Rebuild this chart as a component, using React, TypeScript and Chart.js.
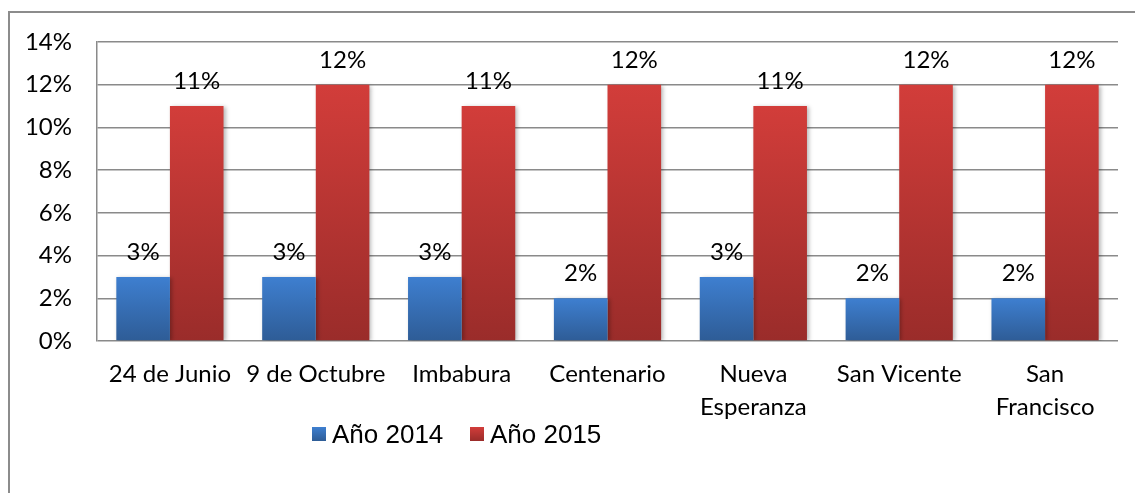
import React, { useEffect, useRef } from "react";
import { Chart, registerables } from "chart.js";

Chart.register(...registerables);

const categories: (string | string[])[] = [
  "24 de Junio",
  "9 de Octubre",
  "Imbabura",
  "Centenario",
  ["Nueva", "Esperanza"],
  "San Vicente",
  ["San", "Francisco"],
];
const seriesNames = ["Año 2014", "Año 2015"];
const values2014 = [3, 3, 3, 2, 3, 2, 2];
const values2015 = [11, 12, 11, 12, 11, 12, 12];
const yTicks = [0, 2, 4, 6, 8, 10, 12, 14];

const BLUE = ["#3e7fd0", "#2e5c96"];
const RED = ["#d23d3a", "#9a2c2a"];
const LABEL_FONT = "Lato";
const LEGEND_FONT = "'Liberation Sans', Arial, sans-serif";

function barGradient(c: any, cols: string[]) {
  const chart = c.chart;
  if (!chart.chartArea || c.type !== "data") return cols[0];
  const y = chart.scales.y;
  const v = c.raw as number;
  const top = y.getPixelForValue(v);
  const bot = y.getPixelForValue(0);
  if (!isFinite(top) || !isFinite(bot) || top === bot) return cols[0];
  const g = chart.ctx.createLinearGradient(0, top, 0, bot);
  g.addColorStop(0, cols[0]);
  g.addColorStop(1, cols[1]);
  return g;
}

const framePlugin = {
  id: "frame",
  beforeDraw(chart: any) {
    const ctx = chart.ctx;
    ctx.save();
    ctx.strokeStyle = "#8c8c8c";
    ctx.lineWidth = 2;
    ctx.beginPath();
    ctx.moveTo(9, chart.height);
    ctx.lineTo(9, 12);
    ctx.lineTo(chart.width, 12);
    ctx.stroke();
    ctx.restore();
  },
  beforeDatasetsDraw(chart: any) {
    const ctx = chart.ctx;
    ctx.save();
    ctx.shadowColor = "rgba(0,0,0,0.28)";
    ctx.shadowBlur = 4;
    ctx.shadowOffsetX = 2;
    ctx.shadowOffsetY = 1;
  },
  afterDatasetsDraw(chart: any) {
    const ctx = chart.ctx;
    ctx.restore();
    // value labels
    ctx.save();
    ctx.font = `24px ${LABEL_FONT}`;
    ctx.fillStyle = "#000";
    ctx.textAlign = "center";
    ctx.textBaseline = "alphabetic";
    chart.data.datasets.forEach((ds: any, di: number) => {
      const meta = chart.getDatasetMeta(di);
      meta.data.forEach((bar: any, i: number) => {
        ctx.fillText(`${ds.data[i]}%`, bar.x, bar.y - 17);
      });
    });
    ctx.restore();
    // legend
    ctx.save();
    const cols = [BLUE, RED];
    const xs = [312, 470];
    ctx.font = `26px ${LEGEND_FONT}`;
    ctx.textBaseline = "alphabetic";
    ctx.textAlign = "left";
    chart.data.datasets.forEach((ds: any, di: number) => {
      const x = xs[di];
      const g = ctx.createLinearGradient(0, 427, 0, 441);
      g.addColorStop(0, cols[di][0]);
      g.addColorStop(1, cols[di][1]);
      ctx.fillStyle = g;
      ctx.fillRect(x, 427, 14, 14);
      ctx.fillStyle = "#000";
      ctx.fillText(ds.label, x + 20, 443);
    });
    ctx.restore();
  },
};

export default function App() {
  const ref = useRef<HTMLCanvasElement>(null);
  useEffect(() => {
    if (!ref.current) return;
    const chart = new Chart(ref.current, {
      type: "bar",
      data: {
        labels: categories,
        datasets: [
          {
            label: seriesNames[0],
            data: values2014,
            backgroundColor: (c: any) => barGradient(c, BLUE),
            barPercentage: 1,
            categoryPercentage: 0.735,
          },
          {
            label: seriesNames[1],
            data: values2015,
            backgroundColor: (c: any) => barGradient(c, RED),
            barPercentage: 1,
            categoryPercentage: 0.735,
          },
        ],
      },
      options: {
        responsive: false,
        maintainAspectRatio: false,
        animation: false,
        layout: { padding: { left: 0, right: 17, top: 42, bottom: 0 } },
        plugins: {
          legend: { display: false },
          tooltip: { enabled: false },
          title: { display: false },
        },
        scales: {
          x: {
            grid: { display: false, drawTicks: false },
            border: { display: false },
            ticks: {
              color: "#000",
              padding: 17,
              maxRotation: 0,
              autoSkip: false,
              font: { family: LABEL_FONT, size: 24, lineHeight: 1.375 },
            },
            afterFit(scale: any) {
              scale.height = 493 - 341;
            },
          },
          y: {
            min: 0,
            max: 14,
            afterBuildTicks(scale: any) {
              scale.ticks = yTicks.map((v) => ({ value: v }));
            },
            grid: {
              color: "#8a8a8a",
              lineWidth: 1.5,
              drawTicks: false,
            },
            border: { display: true, color: "#8a8a8a", width: 1.5 },
            ticks: {
              color: "#000",
              padding: 25,
              font: { family: LABEL_FONT, size: 24 },
              callback: (v: any) => `${v}%`,
            },
            afterFit(scale: any) {
              scale.width = 97;
            },
          },
        },
      },
      plugins: [framePlugin],
    });
    return () => chart.destroy();
  }, []);
  return (
    <div style={{ position: "fixed", left: 0, top: 0, width: 1135, height: 493, background: "#fff" }}>
      <canvas ref={ref} width={1135} height={493} style={{ display: "block" }} />
    </div>
  );
}
